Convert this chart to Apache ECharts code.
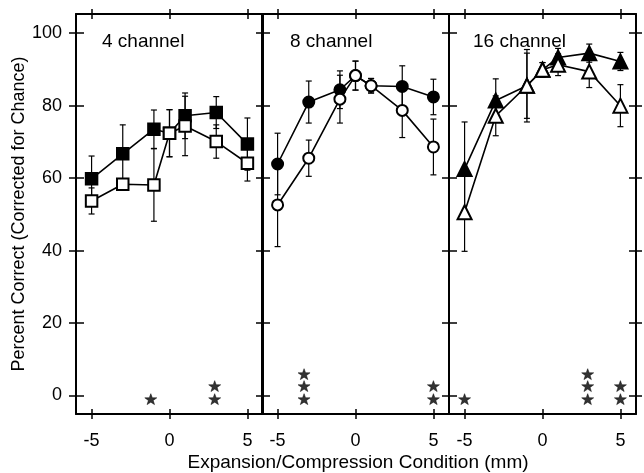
<!DOCTYPE html>
<html><head><meta charset="utf-8">
<script src="https://cdn.jsdelivr.net/npm/echarts@6/dist/echarts.min.js"></script>
<style>html,body{margin:0;padding:0;background:#fff}#c{width:644px;height:473px}</style>
</head><body><div id="c"></div>
<script>
// ---- data ----
const xVals = [-5, -3, -1, 0, 1, 3, 5];
const panelTitles = ['4 channel', '8 channel', '16 channel'];
const yTicks = [0, 20, 40, 60, 80, 100];
const xTicks = [-5, 0, 5];

const ch4Filled    = [59.8, 66.7, 73.5, 72.4, 77.2, 78.1, 69.4];
const ch4FilledErr = [6.3, 8.0, 5.3, 6.5, 6.3, 4.4, 7.2];
const ch4Open      = [53.7, 58.3, 58.1, 72.4, 74.4, 70.1, 64.1];
const ch4OpenErr   = [3.6, 1.5, 10.0, 6.5, 8.2, 4.6, 4.9];

const ch8Filled    = [63.9, 81.0, 84.4, 88.3, 85.5, 85.3, 82.4];
const ch8FilledErr = [8.5, 5.8, 5.2, 4.0, 2.0, 5.7, 4.9];
const ch8Open      = [52.6, 65.5, 81.8, 88.3, 85.5, 78.7, 68.6];
const ch8OpenErr   = [11.5, 5.0, 6.6, 4.0, 2.0, 7.5, 7.7];

const ch16Filled    = [62.5, 81.4, 85.5, 89.9, 93.3, 94.5, 92.2];
const ch16FilledErr = [13.0, 6.0, 9.0, 2.0, 2.5, 2.5, 2.5];
const ch16Open      = [50.6, 77.2, 85.5, 89.9, 91.3, 89.4, 80.0];
const ch16OpenErr   = [10.8, 5.5, 10.0, 2.0, 3.0, 4.4, 5.8];

// significance asterisks: [x, stack level value]
const stars4  = [[-1.2, -1.0], [2.9, -1.0], [2.9, 2.6]];
const stars8  = [[-3.3, -1.0], [-3.3, 2.6], [-3.3, 5.9], [5.0, -1.0], [5.0, 2.6]];
const stars16 = [[-5.0, -1.0], [2.9, -1.0], [2.9, 2.6], [2.9, 5.9], [5.0, -1.0], [5.0, 2.6]];

const panels = [
  { filled: ch4Filled, filledErr: ch4FilledErr, open: ch4Open, openErr: ch4OpenErr, stars: stars4, symbol: 'rect' },
  { filled: ch8Filled, filledErr: ch8FilledErr, open: ch8Open, openErr: ch8OpenErr, stars: stars8, symbol: 'circle' },
  { filled: ch16Filled, filledErr: ch16FilledErr, open: ch16Open, openErr: ch16OpenErr, stars: stars16, symbol: 'triangle' }
];

// ---- layout ----
const FONT = "'Liberation Sans', Arial, Helvetica, sans-serif";
const gridLefts = [76, 262, 449];
const gridW = 187;
const gridTop = 14, gridH = 400;
const Y_MIN = -5.1, Y_MAX = 105.3;
const X_MIN = -6, X_MAX = 6;
const titleX = [102, 290, 473];

const chart = echarts.init(document.getElementById('c'), null, { renderer: 'canvas' });

const grids = [], xAxes = [], yAxes = [], series = [], titles = [];
const lineStyle = { color: '#000', width: 2 };

function xAxis(g, position, inside, len, showLine, showLabel) {
  return {
    type: 'value', gridIndex: g, position: position, min: X_MIN, max: X_MAX,
    axisLine: { show: showLine, onZero: false, lineStyle: lineStyle },
    axisTick: { show: true, inside: inside, length: len, customValues: xTicks, lineStyle: { color: '#000', width: 1.5 } },
    axisLabel: { show: showLabel, customValues: xTicks, margin: 18, color: '#000', fontSize: 18, fontFamily: FONT },
    splitLine: { show: false }
  };
}
function yAxis(g, position, inside, len, showTick, showLine, showLabel) {
  const a = {
    type: 'value', gridIndex: g, position: position, min: Y_MIN, max: Y_MAX,
    axisLine: { show: showLine, onZero: false, lineStyle: lineStyle },
    axisTick: { show: showTick, inside: inside, length: len, customValues: yTicks, lineStyle: { color: '#000', width: 1.5 } },
    axisLabel: { show: showLabel, customValues: yTicks, margin: 14, color: '#000', fontSize: 18, fontFamily: FONT },
    splitLine: { show: false }
  };
  if (showLabel) {
    a.name = 'Percent Correct (Corrected for Chance)';
    a.nameLocation = 'middle';
    a.nameRotate = 90;
    a.nameGap = 44;
    a.nameTextStyle = { color: '#000', fontSize: 18, fontFamily: FONT };
  }
  return a;
}

function errRender(params, api) {
  const x = api.value(0), y = api.value(1), e = api.value(2);
  const top = api.coord([x, y + e]);
  const bot = api.coord([x, y - e]);
  const cw = 3;
  const st = { stroke: '#000', lineWidth: 1.2 };
  return {
    type: 'group',
    children: [
      { type: 'line', shape: { x1: top[0], y1: top[1], x2: bot[0], y2: bot[1] }, style: st },
      { type: 'line', shape: { x1: top[0] - cw, y1: top[1], x2: top[0] + cw, y2: top[1] }, style: st },
      { type: 'line', shape: { x1: bot[0] - cw, y1: bot[1], x2: bot[0] + cw, y2: bot[1] }, style: st }
    ]
  };
}

const starPath = 'path://M0,-10 L2.35,-3.24 L9.51,-3.09 L3.8,1.24 L5.88,8.09 L0,4 L-5.88,8.09 L-3.8,1.24 L-9.51,-3.09 L-2.35,-3.24 Z';

panels.forEach((p, g) => {
  grids.push({ left: gridLefts[g], top: gridTop, width: gridW, height: gridH, containLabel: false });
  xAxes.push(xAxis(g, 'bottom', false, 5, true, true));
  xAxes.push(xAxis(g, 'bottom', true, 5, false, false));
  xAxes.push(xAxis(g, 'top', false, 5, true, false));
  xAxes.push(xAxis(g, 'top', true, 5, false, false));
  yAxes.push(yAxis(g, 'left', true, 8, true, true, g === 0));
  yAxes.push(yAxis(g, 'left', false, 7, g === 0, false, false));
  yAxes.push(yAxis(g, 'right', true, 7, true, true, false));
  yAxes.push(yAxis(g, 'right', false, 6, g === 2, false, false));

  const xi = 4 * g, yi = 4 * g;
  const symSize = p.symbol === 'triangle' ? 14 : (p.symbol === 'rect' ? 11.5 : 11);

  series.push({
    type: 'custom', xAxisIndex: xi, yAxisIndex: yi, renderItem: errRender, z: 2,
    data: xVals.map((x, i) => [x, p.filled[i], p.filledErr[i]])
  });
  series.push({
    type: 'custom', xAxisIndex: xi, yAxisIndex: yi, renderItem: errRender, z: 2,
    data: xVals.map((x, i) => [x, p.open[i], p.openErr[i]])
  });
  series.push({
    type: 'line', xAxisIndex: xi, yAxisIndex: yi, z: 3,
    data: xVals.map((x, i) => [x, p.filled[i]]),
    symbol: p.symbol, symbolSize: symSize, showAllSymbol: true,
    lineStyle: { color: '#000', width: 1.6 },
    itemStyle: { color: '#000', borderColor: '#000', borderWidth: 2 },
    animation: false
  });
  series.push({
    type: 'line', xAxisIndex: xi, yAxisIndex: yi, z: 4,
    data: xVals.map((x, i) => [x, p.open[i]]),
    symbol: p.symbol, symbolSize: symSize, showAllSymbol: true,
    lineStyle: { color: '#000', width: 1.6 },
    itemStyle: { color: '#fff', borderColor: '#000', borderWidth: 2 },
    animation: false
  });
  series.push({
    type: 'scatter', xAxisIndex: xi, yAxisIndex: yi, z: 5,
    data: p.stars, symbol: starPath, symbolSize: [12, 11.5], symbolKeepAspect: true,
    itemStyle: { color: '#000', borderColor: '#000', borderWidth: 0.6 }, animation: false
  });

  titles.push({
    text: panelTitles[g], left: titleX[g], top: 32, padding: 0,
    textStyle: { color: '#000', fontSize: 19, fontWeight: 'normal', fontFamily: FONT }
  });
});

chart.setOption({
  animation: false,
  backgroundColor: '#fff',
  title: titles,
  grid: grids,
  xAxis: xAxes,
  yAxis: yAxes,
  series: series,
  graphic: [{
    type: 'text', x: 358, y: 463,
    style: { text: 'Expansion/Compression Condition (mm)', fill: '#000', font: '19px ' + FONT, textAlign: 'center', textVerticalAlign: 'middle' }
  }]
});
</script></body></html>
